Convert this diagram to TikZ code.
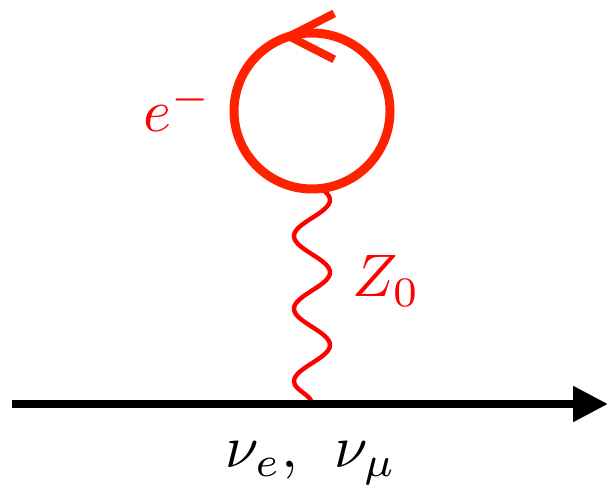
\documentclass[tikz,border=0pt]{standalone}
\usepackage{amsmath}
\usetikzlibrary{calc, positioning}
\usetikzlibrary{arrows.meta}
\usetikzlibrary{decorations.pathmorphing}

\definecolor{loopred}{RGB}{255,34,0}

\tikzset{
  fermion/.style={line width=4pt, -{Triangle[length=17.5pt, width=17pt]}},
  loopline/.style={line width=4.5pt, draw=loopred},
  boson/.style={line width=2.2pt, draw=red, decorate,
    decoration={snake, segment length=36.3pt, amplitude=9pt}},
  lbl/.style={scale=3.0, inner sep=0pt}
}

\begin{document}
\begin{tikzpicture}[x=0.5pt, y=0.5pt]
\def\cx{312}
\def\cy{375}
\def\rad{78}

\useasboundingbox (0,0) rectangle (608,486);

% neutrino line and vertex
\coordinate (nstart) at (12,82);
\coordinate (nend) at (608,82);
\coordinate (vtx) at (\cx,82);

% electron loop
\coordinate (loopc) at (\cx,\cy);
\coordinate (loopbot) at ($(loopc)+(270:\rad)$);
\coordinate (wend) at ($(loopbot)+(0,12)$);
\coordinate (chev) at ($(loopc)+(107:\rad)$);

\draw[boson] (vtx) -- (wend);
\draw[fermion] (nstart) -- (nend);

\draw[loopline, fill=white] (loopc) circle (\rad);
\draw[loopline, line width=4pt] ($(chev)+(45,23)$) -- (chev) -- ($(chev)+(45,-23)$);

\node[lbl, text=red, anchor=base] (elabel) at (178,354) {$e^-$};
\node[lbl, text=red, anchor=base] (zlabel) at (386,189) {$Z_0$};
\node[lbl, anchor=base] (nulabel) at (311,19) {$\nu_e,\;\,\nu_\mu$};

\end{tikzpicture}
\end{document}
